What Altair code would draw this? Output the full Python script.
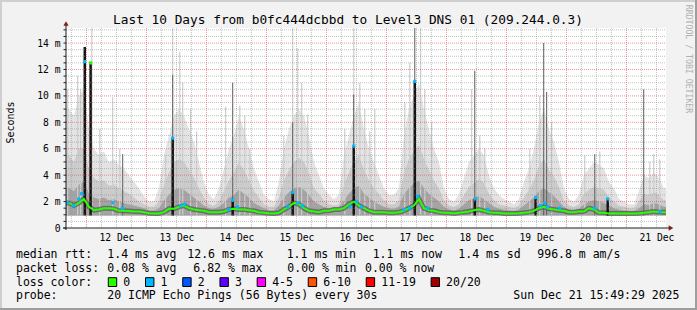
import altair as alt
import pandas as pd

# ---------------- data ----------------
TITLE = "Last 10 Days from b0fc444dcbbd to Level3 DNS 01 (209.244.0.3)"
Y_TITLE = "Seconds"
WATERMARK = "RRDTOOL / TOBI OETIKER"
START = "12-11 15:49:29"
END = "12-21 15:49:29"
FIRST_SLOT = "12-11 16:00"          # 2-hour slots from here
Y_TICKS = [0, 2, 4, 6, 8, 10, 12, 14]
DAY_LABEL_TIMES = ["12-%d 12:00" % d for d in range(12, 22)]

SMOKE_FLOOR = 0.95
SMOKE_MAX = [
    9.0, 8.5, 10.0, 10.5,
    7.5, 6.0, 5.5, 5.8, 5.0, 5.2, 4.8, 4.5, 4.0, 3.5, 3.0, 2.4,
    2.0, 2.0, 3.0, 5.5, 7.0, 8.5, 9.0, 8.5, 7.5, 6.5, 5.0, 3.5,
    2.5, 2.2, 3.0, 4.5, 6.0, 7.0, 8.5, 7.5, 6.0, 4.5, 3.5, 2.5,
    2.2, 2.0, 3.5, 6.0, 7.5, 8.5, 9.0, 8.5, 7.0, 5.0, 4.0, 3.0,
    2.5, 2.2, 2.5, 5.5, 7.0, 8.5, 9.5, 7.5, 6.0, 5.0, 4.0, 3.0,
    2.5, 2.5, 3.0, 7.0, 9.0, 10.0, 11.0, 9.0, 7.5, 6.0, 5.0, 3.0,
    2.2, 2.0, 2.5, 3.8, 5.0, 5.5, 6.0, 5.5, 4.0, 3.0, 2.5, 2.2,
    2.0, 1.8, 2.2, 3.5, 4.5, 6.0, 8.0, 9.0, 7.5, 6.5, 5.0, 3.0,
    2.2, 2.0, 2.5, 4.0, 4.5, 5.0, 4.8, 4.5, 3.5, 3.0, 2.2, 2.0,
    1.8, 1.8, 2.8, 4.0, 3.8, 4.2, 3.8, 3.0,
]
SMOKE_MID = [
    5.5, 5.0, 6.0, 6.0,
    4.5, 3.8, 3.5, 3.6, 3.2, 3.3, 3.0, 2.8, 2.6, 2.3, 2.0, 1.8,
    1.6, 1.6, 2.0, 3.3, 4.2, 5.0, 5.2, 5.0, 4.4, 3.8, 3.0, 2.3,
    1.8, 1.7, 2.0, 2.8, 3.6, 4.2, 5.0, 4.4, 3.6, 2.8, 2.3, 1.8,
    1.6, 1.6, 2.3, 3.6, 4.4, 5.0, 5.3, 5.0, 4.2, 3.0, 2.6, 2.1,
    1.8, 1.7, 1.8, 3.3, 4.2, 5.0, 5.5, 4.4, 3.6, 3.0, 2.6, 2.1,
    1.8, 1.8, 2.1, 4.2, 5.2, 5.8, 6.3, 5.2, 4.4, 3.6, 3.0, 2.1,
    1.7, 1.6, 1.8, 2.5, 3.1, 3.4, 3.7, 3.4, 2.6, 2.1, 1.8, 1.7,
    1.6, 1.5, 1.7, 2.3, 2.9, 3.6, 4.7, 5.2, 4.4, 3.9, 3.1, 2.1,
    1.7, 1.6, 1.8, 2.6, 2.9, 3.1, 3.0, 2.9, 2.3, 2.0, 1.7, 1.6,
    1.5, 1.5, 2.0, 2.6, 2.5, 2.7, 2.5, 2.1,
]
SMOKE_LOW = [
    3.0, 2.8, 3.3, 3.5,
    2.6, 2.3, 2.2, 2.3, 2.1, 2.2, 2.0, 1.9, 1.8, 1.7, 1.6, 1.5,
    1.35, 1.35, 1.5, 2.1, 2.5, 2.9, 3.0, 2.9, 2.6, 2.3, 2.0, 1.7,
    1.5, 1.45, 1.6, 1.9, 2.3, 2.5, 2.9, 2.6, 2.3, 1.9, 1.7, 1.5,
    1.35, 1.35, 1.7, 2.3, 2.7, 3.0, 3.1, 2.9, 2.5, 2.0, 1.8, 1.6,
    1.5, 1.5, 1.55, 2.1, 2.6, 3.0, 3.2, 2.6, 2.3, 2.0, 1.8, 1.6,
    1.5, 1.45, 1.6, 2.6, 3.0, 3.4, 3.6, 3.0, 2.6, 2.3, 2.0, 1.6,
    1.4, 1.35, 1.45, 1.8, 2.1, 2.3, 2.4, 2.2, 1.9, 1.6, 1.45, 1.4,
    1.35, 1.3, 1.4, 1.7, 2.0, 2.3, 2.8, 3.0, 2.7, 2.4, 2.0, 1.6,
    1.4, 1.35, 1.45, 1.8, 2.0, 2.1, 2.0, 1.9, 1.7, 1.5, 1.4, 1.35,
    1.3, 1.3, 1.5, 1.8, 1.75, 1.9, 1.8, 1.6,
]
MEDIAN = [
    1.9, 1.7, 1.9, 2.2,
    1.6, 1.35, 1.4, 1.5, 1.5, 1.45, 1.3, 1.3, 1.28, 1.25, 1.25, 1.2,
    1.12, 1.1, 1.1, 1.2, 1.45, 1.45, 1.6, 1.7, 1.5, 1.4, 1.35, 1.3,
    1.2, 1.2, 1.2, 1.25, 1.4, 1.45, 1.4, 1.4, 1.35, 1.3, 1.2, 1.15,
    1.12, 1.1, 1.15, 1.4, 1.6, 1.9, 1.8, 1.5, 1.3, 1.25, 1.2, 1.3,
    1.3, 1.4, 1.4, 1.5, 1.8, 2.0, 1.7, 1.5, 1.3, 1.2, 1.2, 1.2,
    1.15, 1.15, 1.2, 1.3, 1.5, 1.7, 2.2, 1.5, 1.35, 1.3, 1.2, 1.15,
    1.15, 1.1, 1.15, 1.2, 1.25, 1.35, 1.4, 1.3, 1.2, 1.15, 1.15, 1.1,
    1.1, 1.1, 1.12, 1.15, 1.2, 1.3, 1.5, 1.6, 1.45, 1.4, 1.35, 1.3,
    1.2, 1.2, 1.25, 1.25, 1.5, 1.4, 1.15, 1.15, 1.1, 1.12, 1.1, 1.1,
    1.1, 1.1, 1.12, 1.15, 1.2, 1.25, 1.2, 1.2,
]

LIGHT_SPIKE_TIME = ["12-11 16:30", "12-11 20:30", "12-11 21:40", "12-12 02:10", "12-12 10:30",
                    "12-13 10:30", "12-13 13:20", "12-13 14:30", "12-14 07:40", "12-14 13:20",
                    "12-15 10:30", "12-15 12:30", "12-15 14:05", "12-16 10:55", "12-16 13:20",
                    "12-16 19:20", "12-17 09:20", "12-17 13:40", "12-18 10:05", "12-21 10:55",
                    "12-12 05:20", "12-12 13:20", "12-13 07:40", "12-13 17:40", "12-13 20:05",
                    "12-14 15:20", "12-14 17:20", "12-15 06:55", "12-15 16:30", "12-16 07:20",
                    "12-16 15:20", "12-16 17:20", "12-17 07:20", "12-17 15:20", "12-17 18:05",
                    "12-18 13:20", "12-18 15:20", "12-19 09:20", "12-19 13:20", "12-19 18:05",
                    "12-20 07:20", "12-20 13:20", "12-21 09:20", "12-21 13:20"]
LIGHT_SPIKE_TOP = [10.5, 11.5, 10.5, 15.2, 9.9,
                   15.2, 13.3, 11.0, 9.2, 9.3,
                   15.2, 13.6, 11.0, 15.2, 11.0,
                   9.0, 12.5, 15.2, 10.5, 5.6,
                   7.5, 6.0, 5.5, 9.0, 7.3,
                   8.5, 6.0, 7.0, 8.6, 7.5,
                   9.0, 7.3, 9.5, 10.5, 8.0,
                   7.0, 6.0, 6.0, 10.0, 8.0,
                   5.5, 5.8, 5.0, 5.2]
DARK_SPIKE_TIME = ["12-12 14:30", "12-13 10:30", "12-14 10:30", "12-15 10:30", "12-16 10:55",
                   "12-17 11:20", "12-18 11:20", "12-19 14:55", "12-19 16:05", "12-20 11:20",
                   "12-21 06:55"]
DARK_SPIKE_TOP = [5.6, 11.6, 11.0, 8.0, 10.1, 15.2, 11.9, 14.0, 10.3, 5.6, 10.5]
BLACK_SPIKE_TIME = ["12-11 23:20", "12-12 01:40", "12-13 10:30", "12-14 10:30", "12-15 10:30",
                    "12-16 10:55", "12-17 11:20", "12-18 11:20", "12-19 11:40", "12-20 16:30"]
BLACK_SPIKE_TOP = [13.7, 12.5, 6.8, 2.1, 2.8, 6.2, 11.1, 2.2, 2.3, 2.2]

LOSS_TIME = ["12-11 16:30", "12-11 18:55", "12-11 20:55", "12-11 22:05", "12-11 23:20",
             "12-12 01:40", "12-12 10:30", "12-12 14:30", "12-13 10:30", "12-13 13:40",
             "12-13 15:20", "12-14 08:55", "12-14 10:30", "12-14 12:30", "12-15 08:30",
             "12-15 10:30", "12-15 12:30", "12-15 14:30", "12-16 09:20", "12-16 10:55",
             "12-16 12:05", "12-16 14:05", "12-17 07:00", "12-17 09:20", "12-17 11:20",
             "12-17 12:30", "12-17 16:30", "12-18 11:40", "12-18 16:30", "12-19 11:40",
             "12-19 13:40", "12-19 15:20", "12-19 16:30", "12-19 21:20", "12-20 11:20",
             "12-20 16:30", "12-21 13:20"]
LOSS_VALUE = [1.9, 1.7, 2.2, 2.6, 12.6,
              12.5, 1.9, 1.5, 6.8, 1.7,
              1.8, 1.4, 2.1, 1.6, 1.6,
              2.7, 1.9, 1.7, 1.6, 6.2,
              2.0, 1.6, 1.4, 1.5, 11.1,
              2.4, 1.5, 2.2, 1.4, 2.3,
              1.7, 1.9, 1.6, 1.5, 1.5,
              2.2, 1.25]
LOSS_COUNT = [1, 1, 1, 1, 1,
              0, 1, 1, 1, 1,
              1, 1, 1, 1, 1,
              1, 1, 1, 1, 1,
              1, 1, 1, 1, 1,
              1, 1, 1, 1, 1,
              1, 1, 1, 1, 1,
              1, 1]

LEGEND_ROWS = [
    ["median rtt:", "1.4 ms avg", "12.6 ms max", "1.1 ms min", "1.1 ms now", "1.4 ms sd", "996.8 m am/s"],
    ["packet loss:", "0.08 % avg", "6.82 % max", "0.00 % min", "0.00 % now"],
    ["loss color:"],
    ["probe:", "20 ICMP Echo Pings (56 Bytes) every 30s", "Sun Dec 21 15:49:29 2025"],
]
LOSS_LABELS = ["0", "1", "2", "3", "4-5", "6-10", "11-19", "20/20"]

# ---------------- styles / layout ----------------
LOSS_COLORS = ["#26ff00", "#00b8ff", "#0059ff", "#5e00ff", "#ff00ff", "#ff5500", "#ff0000", "#a10000"]
MONO = "DejaVu Sans Mono"
W, H = 600, 200
OX, OY = 66, 28                      # plot origin in the 697x310 image
YMAX = 15.14
LEGEND_X = [
    [16, 107.3, 187.3, 286.7, 372.7, 458.3, 537.3],
    [16, 107.3, 193.3, 287.3, 365.0],
    [16],
    [16, 107.3, 513.3],
]
LEGEND_Y = [258.3, 272.0, 285.7, 299.4]
CHAR_W = 6.92
C_HI, C_MID, C_LOW, C_HALO = "#e3e3e3", "#cbcbcb", "#a4a4a4", "#5e5e5e"


def ms(s):
    return int(pd.Timestamp("2025-" + s, tz="UTC").value // 1_000_000)


HOUR = 3_600_000
T_START, T_END = ms(START), ms(END)
n = len(SMOKE_MAX)
assert len(SMOKE_MID) == n and len(SMOKE_LOW) == n and len(MEDIAN) == n
slot0 = ms(FIRST_SLOT)
tc = [slot0 + 2 * HOUR * k + HOUR for k in range(n)]
smoke = pd.DataFrame({"tc": tc, "hi": SMOKE_MAX, "mid": SMOKE_MID,
                      "low": SMOKE_LOW, "med": MEDIAN, "floor": SMOKE_FLOOR})
# smoke areas reach the plot edges by holding the first/last slot value
edge = pd.concat([smoke.iloc[[0]].assign(tc=T_START), smoke, smoke.iloc[[-1]].assign(tc=T_END)],
                 ignore_index=True)

XS = alt.Scale(type="utc", domain=[T_START, T_END])
YS = alt.Scale(domain=[0, YMAX], nice=False, zero=False)
XAX = alt.Axis(values=[ms(s) for s in DAY_LABEL_TIMES], labelExpr="utcFormat(datum.value, '%d %b')",
               domain=False, ticks=False, grid=False, title=None, labelFont=MONO, labelFontSize=9.7,
               labelColor="#000000", labelAngle=0, labelBaseline="alphabetic", labelPadding=12,
               labelFlush=False, labelOverlap=False, labelBound=False)
YAX = alt.Axis(values=Y_TICKS, labelExpr="datum.value == 0 ? '0' : datum.value + ' m'",
               domain=False, ticks=False, grid=False, title=None, labelFont=MONO, labelFontSize=9.7,
               labelColor="#000000", labelPadding=6, labelBaseline="middle")


def X(f):
    return alt.X(f + ":T", scale=XS, axis=XAX)


def Y(f):
    return alt.Y(f + ":Q", scale=YS, axis=YAX)


ONE = pd.DataFrame({"k": [0]})
layers = []

# smoke
for col, c in [("hi", C_HI), ("mid", C_MID), ("low", C_LOW)]:
    layers.append(alt.Chart(edge).mark_area(color=c, opacity=1, clip=True)
                  .encode(x=X("tc"), y=Y("floor"), y2=col))


def spikes(times, tops):
    return pd.DataFrame({"t": [ms(s) for s in times], "top": tops, "b": SMOKE_FLOOR})


layers.append(alt.Chart(spikes(LIGHT_SPIKE_TIME, LIGHT_SPIKE_TOP)).mark_rule(color="#cdcdcd", strokeWidth=1.2, clip=True)
              .encode(x=X("t"), y=Y("b"), y2="top"))
layers.append(alt.Chart(spikes(DARK_SPIKE_TIME, DARK_SPIKE_TOP)).mark_rule(color="#5a5a5a", strokeWidth=1, clip=True)
              .encode(x=X("t"), y=Y("b"), y2="top"))
# dark core around the median
layers.append(alt.Chart(edge).mark_line(color=C_HALO, strokeWidth=5, opacity=0.8, clip=True)
              .encode(x=X("tc"), y=Y("med")))
layers.append(alt.Chart(spikes(BLACK_SPIKE_TIME, BLACK_SPIKE_TOP)).mark_rule(color="#141414", strokeWidth=2.5, clip=True)
              .encode(x=X("t"), y=Y("b"), y2="top"))

# grid
minor_t, major_t = [], []
t = ms("12-11 18:00")
while t < T_END:
    (major_t if (t // HOUR) % 24 == 0 else minor_t).append(t)
    t += 6 * HOUR
minor_v = [k * 0.5 for k in range(1, 31) if (k * 0.5) % 2 != 0]
major_v = [v for v in Y_TICKS if v > 0]
layers.append(alt.Chart(pd.DataFrame({"t": minor_t})).mark_rule(color="#8f8f8f", opacity=0.55, strokeDash=[1, 1], strokeWidth=1)
              .encode(x=X("t"), y=alt.value(0), y2=alt.value(H)))
layers.append(alt.Chart(pd.DataFrame({"v": minor_v})).mark_rule(color="#8f8f8f", opacity=0.55, strokeDash=[1, 1], strokeWidth=1)
              .encode(y=Y("v"), x=alt.value(0), x2=alt.value(W)))
layers.append(alt.Chart(pd.DataFrame({"t": major_t})).mark_rule(color="#de4f4f", opacity=0.6, strokeDash=[1, 1], strokeWidth=1)
              .encode(x=X("t"), y=alt.value(0), y2=alt.value(H)))
layers.append(alt.Chart(pd.DataFrame({"v": major_v})).mark_rule(color="#de4f4f", opacity=0.6, strokeDash=[1, 1], strokeWidth=1)
              .encode(y=Y("v"), x=alt.value(0), x2=alt.value(W)))

# median line + loss markers
layers.append(alt.Chart(edge).mark_line(color=LOSS_COLORS[0], strokeWidth=2, clip=True)
              .encode(x=X("tc"), y=Y("med")))
loss = pd.DataFrame({"t": [ms(s) for s in LOSS_TIME], "v": LOSS_VALUE,
                     "c": [LOSS_COLORS[k] for k in LOSS_COUNT]})
layers.append(alt.Chart(loss).mark_square(size=10, opacity=1, clip=True)
              .encode(x=X("t"), y=Y("v"), color=alt.Color("c:N", scale=None)))

# y ticks on the axis
ytick = pd.DataFrame({"v": [k * 0.5 for k in range(0, 31)]})
layers.append(alt.Chart(ytick).mark_rule(color="#1f1f1f", strokeWidth=1)
              .encode(y=Y("v"), x=alt.value(-2.5), x2=alt.value(0)))

# axes with arrows
AX = "#1f1f1f"
layers.append(alt.Chart(ONE).mark_rule(color=AX, strokeWidth=1)
              .encode(x=alt.value(-3), x2=alt.value(W + 4), y=alt.value(H)))
layers.append(alt.Chart(ONE).mark_rule(color=AX, strokeWidth=1)
              .encode(x=alt.value(0), y=alt.value(H + 2), y2=alt.value(-4)))
layers.append(alt.Chart(ONE).mark_point(shape="triangle-up", filled=True, size=28, color="#801f1f", opacity=1)
              .encode(x=alt.value(0), y=alt.value(-4.5)))
layers.append(alt.Chart(ONE).mark_point(shape="triangle-right", filled=True, size=28, color="#801f1f", opacity=1)
              .encode(x=alt.value(W + 5), y=alt.value(H)))

# frame (shade A top/left, shade B bottom/right)
for (x1, x2, y1, y2, c) in [(0, 697, 0, 2, "#cfcfcf"), (0, 2, 0, 310, "#cfcfcf"),
                            (0, 697, 308, 310, "#9e9e9e"), (695, 697, 0, 310, "#9e9e9e")]:
    layers.append(alt.Chart(ONE).mark_rect(color=c)
                  .encode(x=alt.value(x1 - OX), x2=alt.value(x2 - OX), y=alt.value(y1 - OY), y2=alt.value(y2 - OY)))


def text_layer(s, x, y, size=11.5, align="left", baseline="alphabetic", angle=0, color="#000000"):
    return (alt.Chart(pd.DataFrame({"s": [s]}))
            .mark_text(align=align, baseline=baseline, angle=angle, font=MONO, fontSize=size, color=color)
            .encode(x=alt.value(x - OX), y=alt.value(y - OY), text="s:N"))


layers.append(text_layer(TITLE, 348, 24, size=12.8, align="center"))
layers.append(text_layer(Y_TITLE, 11, 122.5, size=10, align="center", baseline="middle", angle=270))
layers.append(text_layer(WATERMARK, 688, 59, size=8.2, align="center", baseline="middle", angle=90, color="#b0b0b0"))
for row, xs, y in zip(LEGEND_ROWS, LEGEND_X, LEGEND_Y):
    for s, x in zip(row, xs):
        layers.append(text_layer(s, x, y))

# loss colour swatches, laid out like the rrdtool legend
xs = 108.3
for lab, col in zip(LOSS_LABELS, LOSS_COLORS):
    layers.append(alt.Chart(ONE).mark_rect(color=col, stroke="#000000", strokeWidth=1)
                  .encode(x=alt.value(xs - OX), x2=alt.value(xs + 8.4 - OX),
                          y=alt.value(277.7 - OY), y2=alt.value(286.5 - OY)))
    lx = xs + 15
    layers.append(text_layer(lab, lx, LEGEND_Y[2]))
    xs = lx + len(lab) * CHAR_W + 15.3

chart = (alt.layer(*layers)
         .properties(width=W, height=H, padding={"left": OX, "top": OY, "right": 697 - OX - W, "bottom": 310 - OY - H},
                     autosize=alt.AutoSizeParams(type="none"))
         .configure(background="#f2f2f2", font=MONO)
         .configure_view(fill="#ffffff", strokeWidth=0))

chart.save("out.html", embed_options={"renderer": "svg", "actions": False})
